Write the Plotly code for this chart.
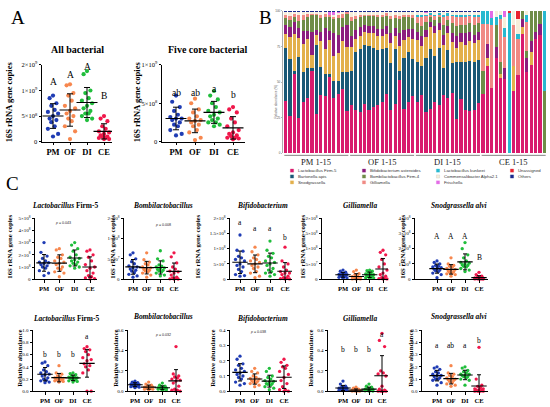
import numpy as np
import plotly.graph_objects as go

W, H = 550, 407
SERIF = "Liberation Serif, Times New Roman, serif"
SANS = "Liberation Sans, Arial, sans-serif"

groups = ["PM", "OF", "DI", "CE"]
group_colors = ["#1f3cb4", "#f7874e", "#20be3c", "#f0174a"]

# ---------------- Panel A data ----------------
all_bact_PM = [0.90, 0.85, 0.75, 0.70, 0.62, 0.58, 0.55, 0.50, 0.45, 0.42, 0.38, 0.30, 0.25, 0.15, 0.10]  # x1e9
all_bact_OF = [1.12, 1.10, 0.95, 0.90, 0.80, 0.70, 0.65, 0.60, 0.55, 0.50, 0.45, 0.40, 0.30, 0.20, 0.05]
all_bact_DI = [1.38, 1.32, 1.00, 0.95, 0.85, 0.80, 0.75, 0.70, 0.65, 0.60, 0.55, 0.55, 0.50, 0.45, 0.42]
all_bact_CE = [0.50, 0.45, 0.40, 0.30, 0.25, 0.20, 0.18, 0.15, 0.12, 0.10, 0.10, 0.08, 0.07, 0.05, 0.05]

core_bact_PM = [0.60, 0.52, 0.45, 0.40, 0.35, 0.32, 0.30, 0.30, 0.28, 0.25, 0.22, 0.20, 0.15, 0.10, 0.08]  # x1e9
core_bact_OF = [0.56, 0.50, 0.42, 0.38, 0.33, 0.30, 0.28, 0.27, 0.25, 0.22, 0.20, 0.15, 0.12, 0.05, 0.02]
core_bact_DI = [0.66, 0.60, 0.55, 0.50, 0.45, 0.40, 0.38, 0.35, 0.33, 0.30, 0.28, 0.25, 0.25, 0.22, 0.20]
core_bact_CE = [0.45, 0.42, 0.38, 0.30, 0.25, 0.20, 0.15, 0.12, 0.10, 0.08, 0.07, 0.05, 0.05, 0.04, 0.03]

# ---------------- Panel C data: gene copies ----------------
firm5_cp_PM = [3.0, 2.2, 1.9, 1.7, 1.5, 1.4, 1.35, 1.3, 1.2, 1.1, 1.0, 0.9, 0.7, 0.5, 0.3]  # x1e8
firm5_cp_OF = [2.5, 2.4, 2.0, 1.8, 1.7, 1.5, 1.4, 1.3, 1.2, 1.0, 0.9, 0.8, 0.6, 0.5, 0.2]
firm5_cp_DI = [3.0, 2.8, 2.5, 2.3, 2.0, 1.8, 1.7, 1.6, 1.5, 1.4, 1.3, 1.2, 1.1, 1.0, 0.9]
firm5_cp_CE = [2.4, 2.3, 2.0, 1.8, 1.5, 1.2, 1.0, 0.9, 0.7, 0.5, 0.3, 0.2, 0.1, 0.05, 0.02]

bombi_cp_PM = [6.5, 6.0, 5.0, 4.3, 3.8, 3.3, 3.0, 2.8, 2.5, 2.2, 2.0, 1.6, 1.2, 0.8, 0.5]  # x1e7
bombi_cp_OF = [6.5, 4.8, 4.2, 3.8, 3.5, 3.0, 2.8, 2.6, 2.4, 2.2, 2.0, 1.8, 1.5, 1.0, 0.5]
bombi_cp_DI = [7.0, 5.0, 4.5, 3.5, 3.2, 3.0, 2.8, 2.6, 2.4, 2.2, 2.0, 1.8, 1.5, 1.0, 0.8]
bombi_cp_CE = [6.5, 5.5, 4.0, 3.0, 2.5, 2.0, 1.8, 1.5, 1.0, 0.5, 0.3, 0.2, 0.1, 0.05, 0.02]

bifido_cp_PM = [14.5, 9.5, 9.2, 7.5, 7.0, 6.5, 6.0, 5.0, 4.5, 4.0, 3.2, 2.5, 1.5, 1.2, 1.0]  # x1e7
bifido_cp_OF = [10.5, 9.0, 8.0, 7.0, 6.5, 6.0, 5.5, 5.0, 4.5, 4.0, 3.5, 2.5, 2.0, 1.0, 0.5]
bifido_cp_DI = [12.5, 9.5, 8.5, 7.5, 7.0, 6.0, 5.5, 5.0, 4.5, 3.5, 3.0, 2.5, 2.0, 1.5, 1.0]
bifido_cp_CE = [10.5, 6.0, 5.0, 4.0, 3.0, 2.5, 2.0, 2.0, 1.5, 1.0, 0.5, 0.3, 0.2, 0.1, 0.1]

gilli_cp_PM = [3.0, 2.6, 2.3, 2.0, 1.8, 1.6, 1.5, 1.4, 1.2, 1.1, 1.0, 0.8, 0.6, 0.4, 0.3]  # x1e7
gilli_cp_OF = [3.0, 2.5, 1.8, 1.5, 1.0, 0.8, 0.6, 0.5, 0.4, 0.3, 0.2, 0.2, 0.1, 0.1, 0.05]
gilli_cp_DI = [3.0, 2.8, 2.6, 2.2, 1.9, 1.7, 1.5, 1.3, 1.2, 1.0, 0.8, 0.6, 0.5, 0.4, 0.3]
gilli_cp_CE = [9.5, 8.8, 8.0, 6.5, 5.0, 4.0, 3.0, 2.0, 1.5, 1.0, 0.5, 0.3, 0.2, 0.1, 0.1]

snod_cp_PM = [1.2, 1.1, 1.0, 0.9, 0.85, 0.8, 0.75, 0.7, 0.65, 0.6, 0.55, 0.5, 0.4, 0.3, 0.1]  # x1e8
snod_cp_OF = [1.4, 1.0, 0.9, 0.85, 0.8, 0.7, 0.65, 0.6, 0.55, 0.5, 0.45, 0.4, 0.35, 0.3, 0.2]
snod_cp_DI = [2.4, 2.0, 1.6, 1.4, 1.2, 1.1, 1.05, 1.0, 0.95, 0.9, 0.85, 0.8, 0.7, 0.6, 0.5]
snod_cp_CE = [0.45, 0.3, 0.2, 0.15, 0.1, 0.08, 0.06, 0.05, 0.04, 0.03, 0.03, 0.02, 0.02, 0.01, 0.01]

# ---------------- Panel C data: relative abundance ----------------
firm5_ra_PM = [0.48, 0.46, 0.42, 0.35, 0.32, 0.30, 0.28, 0.27, 0.25, 0.22, 0.20, 0.18, 0.17, 0.15, 0.14]
firm5_ra_OF = [0.42, 0.30, 0.28, 0.25, 0.23, 0.22, 0.21, 0.20, 0.20, 0.19, 0.18, 0.18, 0.17, 0.16, 0.15]
firm5_ra_DI = [0.30, 0.29, 0.27, 0.25, 0.24, 0.23, 0.22, 0.22, 0.21, 0.20, 0.20, 0.18, 0.17, 0.16, 0.15]
firm5_ra_CE = [0.73, 0.70, 0.68, 0.65, 0.60, 0.55, 0.52, 0.50, 0.45, 0.42, 0.40, 0.35, 0.30, 0.00, 0.00]

bombi_ra_PM = [0.10, 0.09, 0.085, 0.08, 0.075, 0.07, 0.065, 0.06, 0.06, 0.055, 0.05, 0.05, 0.045, 0.04, 0.035]
bombi_ra_OF = [0.09, 0.07, 0.06, 0.05, 0.045, 0.04, 0.04, 0.035, 0.035, 0.03, 0.03, 0.025, 0.02, 0.02, 0.015]
bombi_ra_DI = [0.08, 0.06, 0.05, 0.045, 0.04, 0.035, 0.03, 0.03, 0.03, 0.025, 0.025, 0.02, 0.02, 0.015, 0.01]
bombi_ra_CE = [0.44, 0.17, 0.15, 0.14, 0.13, 0.12, 0.11, 0.10, 0.08, 0.05, 0.02, 0.01, 0.01, 0.00, 0.00]

bifido_ra_PM = [0.23, 0.21, 0.18, 0.17, 0.15, 0.14, 0.13, 0.12, 0.11, 0.10, 0.09, 0.08, 0.06, 0.05, 0.04]
bifido_ra_OF = [0.15, 0.13, 0.12, 0.10, 0.09, 0.085, 0.08, 0.075, 0.07, 0.065, 0.06, 0.055, 0.05, 0.04, 0.03]
bifido_ra_DI = [0.15, 0.13, 0.10, 0.09, 0.08, 0.07, 0.065, 0.06, 0.05, 0.05, 0.045, 0.04, 0.03, 0.02, 0.01]
bifido_ra_CE = [0.21, 0.19, 0.17, 0.16, 0.15, 0.13, 0.11, 0.09, 0.07, 0.05, 0.03, 0.01, 0.01, 0.00, 0.00]

gilli_ra_PM = [0.10, 0.07, 0.05, 0.04, 0.035, 0.03, 0.03, 0.025, 0.02, 0.02, 0.02, 0.015, 0.01, 0.01, 0.005]
gilli_ra_OF = [0.04, 0.03, 0.02, 0.015, 0.012, 0.01, 0.01, 0.008, 0.006, 0.005, 0.004, 0.003, 0.002, 0.001, 0.001]
gilli_ra_DI = [0.07, 0.05, 0.04, 0.03, 0.025, 0.02, 0.018, 0.015, 0.012, 0.01, 0.008, 0.006, 0.004, 0.002, 0.001]
gilli_ra_CE = [0.57, 0.50, 0.44, 0.20, 0.18, 0.17, 0.15, 0.05, 0.02, 0.01, 0.00, 0.00, 0.00, 0.00, 0.00]

snod_ra_PM = [0.20, 0.19, 0.18, 0.16, 0.15, 0.14, 0.13, 0.13, 0.12, 0.11, 0.10, 0.10, 0.09, 0.07, 0.05]
snod_ra_OF = [0.21, 0.15, 0.14, 0.13, 0.12, 0.11, 0.10, 0.10, 0.095, 0.09, 0.08, 0.07, 0.06, 0.05, 0.04]
snod_ra_DI = [0.20, 0.19, 0.17, 0.16, 0.15, 0.14, 0.14, 0.13, 0.13, 0.12, 0.12, 0.11, 0.10, 0.09, 0.05]
snod_ra_CE = [0.36, 0.10, 0.05, 0.04, 0.03, 0.02, 0.02, 0.01, 0.01, 0.01, 0.00, 0.00, 0.00, 0.00, 0.00]

# ---------------- Panel B data (% per sample: PM1-15, OF1-15, DI1-15, CE1-15) ----------------
taxa = ["Lactobacillus Firm-5", "Bartonella apis", "Snodgrassella",
        "Bifidobacterium asteroides", "Bombilactobacillus Firm-4", "Gilliamella",
        "Lactobacillus kunkeei", "Commensalibacter Alpha2.1", "Frischella",
        "Unassigned", "Others"]
taxa_colors = ["#d81b6d", "#1a5876", "#e3b04b", "#8c1d7e", "#6e8c47", "#f08a84",
               "#27b9d0", "#f6eedb", "#e36ce6", "#e8232e", "#1b2a8e"]

ra_firm5 = [37, 26, 56, 25, 36, 39, 58, 28, 41, 40, 55, 40, 42, 45, 30,
            33, 30, 29, 34, 30, 32, 34, 36, 41, 30, 34, 51, 31, 36, 40,
            36, 41, 29, 31, 36, 34, 41, 39, 42, 24, 38, 30, 29, 30, 35,
            42, 61, 46, 67, 53, 52, 0.5, 44, 55, 84, 57, 62, 80, 83, 0]
ra_bart = [37, 40, 2, 43, 21, 21, 2, 48, 20, 16, 2, 12, 9, 12, 27,
           24, 41, 44, 41, 45, 41, 38, 37, 31, 33, 38, 6, 36, 35, 25,
           28, 20, 38, 43, 32, 40, 19, 33, 21, 40, 26, 34, 35, 34, 30,
           0, 0, 0, 0, 0, 0, 0, 0, 0, 0, 0, 0, 0, 0, 0]
ra_snod = [10, 15, 26, 13, 20, 20, 9, 7, 18, 17, 24, 18, 20, 22, 18,
           16, 9, 9, 9, 9, 10, 10, 9, 10, 14, 9, 17, 12, 10, 14,
           15, 14, 15, 15, 16, 12, 16, 12, 15, 10, 14, 12, 14, 13, 14,
           0, 6, 0, 0, 3, 0, 0, 17, 0, 5, 0, 9, 0, 0, 0]
ra_bifido = [6, 7, 8, 7, 9, 6, 16, 4, 6, 15, 7, 16, 13, 10, 15,
             8, 6, 6, 5, 5, 5, 5, 5, 5, 7, 6, 9, 7, 6, 7,
             6, 7, 5, 4, 5, 5, 7, 5, 6, 8, 6, 8, 6, 6, 6,
             0, 10, 0, 8, 0, 8, 0, 0, 0, 5, 10, 8, 5, 8, 0]
ra_bombi = [5, 5, 4, 5, 8, 10, 12, 10, 10, 8, 10, 10, 12, 6, 8,
            10, 8, 7, 6, 7, 7, 8, 8, 7, 10, 7, 10, 9, 8, 8,
            6, 7, 6, 3, 4, 4, 7, 4, 7, 7, 6, 6, 6, 7, 6,
            16, 0, 0, 15, 8, 0, 0, 0, 0, 6, 5, 21, 15, 9, 44]
ra_gilli = [2, 3, 2, 4, 3, 2, 1, 1, 2, 2, 1, 2, 2, 3, 1,
            3, 2, 2, 1, 1, 1, 2, 2, 2, 2, 2, 2, 2, 2, 2,
            4, 6, 4, 2, 3, 2, 5, 3, 5, 6, 5, 5, 5, 5, 4,
            33, 14, 44, 0, 30, 22, 0, 29, 25, 0, 20, 0, 0, 0, 0]
ra_kunkeei = [0, 0, 0, 0, 0, 0, 0, 0, 0, 0, 0, 0, 0, 0, 0,
              0, 0, 0, 0, 0, 0, 0, 0, 0, 0, 0, 0, 0, 0, 0,
              2, 2, 1, 1, 1, 1, 2, 2, 1, 2, 2, 2, 1, 2, 2,
              9, 9, 5, 6, 3, 6, 98, 0, 4, 0, 5, 0, 0, 0, 56]
ra_comm = [2.5, 3, 1.5, 2.5, 2.5, 1.5, 1.5, 1.5, 2.5, 1.5, 0.5, 1.5, 1.5, 1.5, 0.5,
           3, 3, 2, 2, 2, 2, 2, 2, 1, 3, 2, 3, 2, 2, 2,
           2, 2, 1, 1, 2, 1, 2, 1, 2, 2, 2, 2, 2, 2, 2,
           0, 0, 0, 4, 3, 8, 0, 10, 10, 0, 3, 0, 0, 0, 0]
ra_frisch = [0, 0, 0, 0, 0, 0, 0, 0, 0, 0, 2, 2, 1, 0, 0,
             0.5, 0, 0, 0, 0, 0, 0, 0, 0, 0, 0, 0, 0, 0, 0,
             0, 0, 1, 0, 0, 0, 0, 0, 0, 0, 0, 0, 0, 0, 0,
             0, 0, 5, 0, 0, 4, 0, 0, 0, 0, 0, 0, 0, 0, 0]
ra_unassigned = [0] * 45 + [0, 0, 0, 0, 0, 0, 1.5, 0, 6, 0, 0, 0, 0, 0, 0]
ra_others = [0.6] * 45 + [0] * 15

taxa_values = [ra_firm5, ra_bart, ra_snod, ra_bifido, ra_bombi, ra_gilli,
               ra_kunkeei, ra_comm, ra_frisch, ra_unassigned, ra_others]
sample_groups = ["PM 1-15", "OF 1-15", "DI 1-15", "CE 1-15"]

# ---------------- tick labels ----------------
def sci(m, e):
    return f"{m}×10<sup>{e}</sup>"

a1_ticks = ["0", sci(5, 8), sci(1, 9), sci(2, 9)]
a2_ticks = ["0", sci(5, 8), sci(1, 9)]
c1_ticks = ["0", sci(1, 8), sci(2, 8), sci(3, 8), sci(4, 8), sci(5, 8)]
c2_ticks = ["0", sci(5, 7), sci(1, 8), sci(2, 8)]
c3_ticks = ["0", sci(5, 7), sci(1, 8), sci("1.5", 8), sci(2, 8)]
c5_ticks = ["0", sci(1, 8), sci(2, 8), sci(3, 8), sci(4, 8)]

COPIES = "<b>16S rRNA gene copies</b>"
RELAB = "<b>Relative abundance</b>"

# layout (pixel) specs: box = (axis x0, axis x1, PM center, CE center, y top, y bottom)
big = dict(tick_size=6.5, xlab_size=8.5, title_size=10, ytitle_size=8.5, pt=4.2, mean_w=15, cap=3, letter_size=9.5)
small = dict(tick_size=5.0, xlab_size=6.6, title_size=7.4, ytitle_size=6.8, pt=3.3, mean_w=11, cap=2, letter_size=7.5)

dot_panels = [
    dict(data=[all_bact_PM, all_bact_OF, all_bact_DI, all_bact_CE], unit=1e9,
         box=(42, 112, 53, 104, 62, 140), yr=[0, 1.5e9], tv=[0, 5e8, 1e9, 1.5e9], tt=a1_ticks,
         title="<b>All bacterial</b>", txy=(77, 46), ytitle=COPIES, ytx=9, yty=100,
         letters=[("A", 79), ("A", 72), ("A", 64), ("B", 94)], p=None, st=big),
    dict(data=[core_bact_PM, core_bact_OF, core_bact_DI, core_bact_CE], unit=1e9,
         box=(162, 245, 176, 233, 62, 140), yr=[0, 1e9], tv=[0, 5e8, 1e9], tt=a2_ticks,
         title="<b>Five core bacterial</b>", txy=(207, 46), ytitle=COPIES, ytx=137, yty=100,
         letters=[("ab", 91), ("ab", 91), ("a", 86), ("b", 93)], p=None, st=big),
    dict(data=[firm5_cp_PM, firm5_cp_OF, firm5_cp_DI, firm5_cp_CE], unit=1e8,
         box=(35, 97, 44, 90, 218, 280), yr=[0, 5e8], tv=[0, 1e8, 2e8, 3e8, 4e8, 5e8], tt=c1_ticks,
         title="<b><i>Lactobacillus</i> Firm-5</b>", txy=(65, 205), ytitle=COPIES, ytx=10, yty=247,
         letters=None, p=("<i>p</i> = 0.043", 63, 223), st=small),
    dict(data=[bombi_cp_PM, bombi_cp_OF, bombi_cp_DI, bombi_cp_CE], unit=1e7,
         box=(124, 182, 133, 174, 218, 280), yr=[0, 1.5e8], tv=[0, 5e7, 1e8, 1.5e8], tt=c2_ticks,
         title="<b><i>Bombilactobacillus</i></b>", txy=(163, 205), ytitle=COPIES, ytx=113, yty=247,
         letters=None, p=("<i>p</i> = 0.008", 163, 225), st=small),
    dict(data=[bifido_cp_PM, bifido_cp_OF, bifido_cp_DI, bifido_cp_CE], unit=1e7,
         box=(230, 292, 240, 285, 218, 280), yr=[0, 2e8], tv=[0, 5e7, 1e8, 1.5e8, 2e8], tt=c3_ticks,
         title="<b><i>Bifidobacterium</i></b>", txy=(262, 205), ytitle=COPIES, ytx=198, yty=247,
         letters=[("a", 222), ("a", 228), ("a", 228), ("b", 238)], p=None, st=small),
    dict(data=[gilli_cp_PM, gilli_cp_OF, gilli_cp_DI, gilli_cp_CE], unit=1e7,
         box=(322, 388, 343, 383, 218, 280), yr=[0, 2e8], tv=[0, 5e7, 1e8, 1.5e8, 2e8], tt=c3_ticks,
         title="<b><i>Gilliamella</i></b>", txy=(360, 205), ytitle=COPIES, ytx=303, yty=247,
         letters=None, p=None, st=small),
    dict(data=[snod_cp_PM, snod_cp_OF, snod_cp_DI, snod_cp_CE], unit=1e8,
         box=(415, 488, 437, 479, 218, 280), yr=[0, 4e8], tv=[0, 1e8, 2e8, 3e8, 4e8], tt=c5_ticks,
         title="<b><i>Snodgrassella alvi</i></b>", txy=(459, 205), ytitle=COPIES, ytx=403, yty=247,
         letters=[("A", 237), ("A", 237), ("A", 237), ("B", 258)], p=None, st=small),
    dict(data=[firm5_ra_PM, firm5_ra_OF, firm5_ra_DI, firm5_ra_CE], unit=1,
         box=(33, 95, 45, 87, 332, 394), yr=[0, 1.0], tv=[0, 0.2, 0.4, 0.6, 0.8, 1.0], tt=None,
         title="<b><i>Lactobacillus</i> Firm-5</b>", txy=(66, 320), ytitle=RELAB, ytx=20, yty=361,
         letters=[("b", 357), ("b", 357), ("b", 357), ("a", 338)], p=None, st=small),
    dict(data=[bombi_ra_PM, bombi_ra_OF, bombi_ra_DI, bombi_ra_CE], unit=1,
         box=(128, 182, 135, 176, 332, 394), yr=[0, 0.6], tv=[0, 0.2, 0.4, 0.6], tt=None,
         title="<b><i>Bombilactobacillus</i></b>", txy=(163, 318), ytitle=RELAB, ytx=116, yty=361,
         letters=None, p=("<i>p</i> = 0.032", 163, 337), st=small),
    dict(data=[bifido_ra_PM, bifido_ra_OF, bifido_ra_DI, bifido_ra_CE], unit=1,
         box=(230, 292, 240, 284, 332, 394), yr=[0, 0.4], tv=[0, 0.1, 0.2, 0.3, 0.4], tt=None,
         title="<b><i>Bifidobacterium</i></b>", txy=(262, 320), ytitle=RELAB, ytx=213, yty=361,
         letters=None, p=("<i>p</i> = 0.038", 258, 334), st=small),
    dict(data=[gilli_ra_PM, gilli_ra_OF, gilli_ra_DI, gilli_ra_CE], unit=1,
         box=(328, 388, 343, 382, 332, 394), yr=[0, 0.6], tv=[0, 0.2, 0.4, 0.6], tt=None,
         title="<b><i>Gilliamella</i></b>", txy=(360, 320), ytitle=RELAB, ytx=311, yty=361,
         letters=[("b", 352), ("b", 352), ("b", 352), ("a", 336)], p=None, st=small),
    dict(data=[snod_ra_PM, snod_ra_OF, snod_ra_DI, snod_ra_CE], unit=1,
         box=(422, 488, 437, 479, 332, 394), yr=[0, 0.5], tv=[0, 0.1, 0.2, 0.3, 0.4, 0.5], tt=None,
         title="<b><i>Snodgrassella alvi</i></b>", txy=(459, 318), ytitle=RELAB, ytx=411, yty=361,
         letters=[("a", 347), ("ab", 347), ("a", 347), ("b", 342)], p=None, st=small),
]

JIT = [0.0, -0.2, 0.2, -0.1, 0.1, -0.3, 0.3, 0.0, -0.2, 0.2, -0.1, 0.1, -0.3, 0.3, 0.0]


def X(p):
    return p / W


def Y(p):
    return 1 - p / H


fig = go.Figure()
layout = {}
annotations = []
shapes = []

for n, P in enumerate(dot_panels, start=1):
    x0, x1, pm, ce, yt, yb = P["box"]
    st = P["st"]
    u = (ce - pm) / 3.0
    xr = [(x0 - pm) / u, 3 + (x1 - ce) / u]
    xk = "xaxis" if n == 1 else f"xaxis{n}"
    yk = "yaxis" if n == 1 else f"yaxis{n}"
    xref = "x" if n == 1 else f"x{n}"
    yref = "y" if n == 1 else f"y{n}"
    layout[xk] = dict(domain=[X(x0), X(x1)], range=xr, anchor=yref, showgrid=False, zeroline=False,
                      showline=True, linecolor="black", linewidth=1, ticks="outside", ticklen=2.5,
                      tickwidth=1, tickcolor="black", tickvals=[0, 1, 2, 3],
                      ticktext=[f"<b>{g}</b>" for g in groups],
                      tickfont=dict(family=SERIF, size=st["xlab_size"], color="black"), fixedrange=True)
    ydict = dict(domain=[Y(yb), Y(yt)], range=P["yr"], anchor=xref, showgrid=False, zeroline=False,
                 showline=True, linecolor="black", linewidth=1, ticks="outside", ticklen=2.5,
                 tickwidth=1, tickcolor="black", tickvals=P["tv"],
                 tickfont=dict(family=SERIF, size=st["tick_size"], color="black"), fixedrange=True)
    if P["tt"] is not None:
        ydict["ticktext"] = P["tt"]
    else:
        ydict["tickformat"] = ".1f"
    layout[yk] = ydict

    for i, (vals, col) in enumerate(zip(P["data"], group_colors)):
        v = np.array(vals, dtype=float) * P["unit"]
        order = np.argsort(-v, kind="stable")
        xs = np.empty(len(v))
        xs[order] = i + np.array(JIT[:len(v)])
        fig.add_trace(go.Scatter(x=xs, y=v, mode="markers", xaxis=xref, yaxis=yref,
                                 marker=dict(size=st["pt"], color=col, line=dict(width=0)),
                                 cliponaxis=False, showlegend=False, hoverinfo="skip"))
        m = float(np.mean(v))
        s = float(np.std(v, ddof=1))
        fig.add_trace(go.Scatter(x=[i], y=[m], mode="markers", xaxis=xref, yaxis=yref,
                                 marker=dict(symbol="line-ew", size=st["mean_w"], color="black",
                                             line=dict(width=1.1, color="black")),
                                 error_y=dict(type="data", array=[s], visible=True, color="black",
                                              thickness=1, width=st["cap"]),
                                 cliponaxis=True, showlegend=False, hoverinfo="skip"))

    annotations.append(dict(text=P["title"], x=X(P["txy"][0]), y=Y(P["txy"][1]), xref="paper", yref="paper",
                            showarrow=False, xanchor="center", yanchor="middle",
                            font=dict(family=SERIF, size=st["title_size"], color="black")))
    annotations.append(dict(text=P["ytitle"], x=X(P["ytx"]), y=Y(P["yty"]), xref="paper", yref="paper",
                            showarrow=False, textangle=-90, xanchor="center", yanchor="middle",
                            font=dict(family=SERIF, size=st["ytitle_size"], color="black")))
    if P["letters"]:
        for i, (txt, ly) in enumerate(P["letters"]):
            annotations.append(dict(text=txt, x=i, y=Y(ly), xref=xref, yref="paper", showarrow=False,
                                    xanchor="center", yanchor="middle",
                                    font=dict(family=SERIF, size=st["letter_size"], color="black")))
    if P["p"]:
        txt, px_, py_ = P["p"]
        annotations.append(dict(text=txt, x=X(px_), y=Y(py_), xref="paper", yref="paper", showarrow=False,
                                xanchor="center", yanchor="middle",
                                font=dict(family=SANS, size=3.6, color="#222")))

# ---------------- Panel B ----------------
nb = len(dot_panels) + 1
bx, by = f"x{nb}", f"y{nb}"
sample_idx = list(range(len(ra_firm5)))
for name, vals, col in zip(taxa, taxa_values, taxa_colors):
    fig.add_trace(go.Bar(x=sample_idx, y=vals, name=name, xaxis=bx, yaxis=by, width=0.72,
                         marker=dict(color=col, line=dict(width=0)), showlegend=False, hoverinfo="skip"))
B_x0, B_x1, B_yt, B_yb = 283, 547, 7, 152
layout[f"xaxis{nb}"] = dict(domain=[X(B_x0), X(B_x1)], range=[-0.6, 59.6], anchor=by, showgrid=False,
                            zeroline=False, showline=False, showticklabels=False, ticks="", fixedrange=True)
layout[f"yaxis{nb}"] = dict(domain=[Y(B_yb), Y(B_yt)], range=[0, 100], anchor=bx, showgrid=False,
                            zeroline=False, showline=True, linecolor="#777", linewidth=0.6,
                            ticks="outside", ticklen=1.5, tickwidth=0.5, tickcolor="#777",
                            tickvals=[0, 25, 50, 75, 100], tickfont=dict(family=SANS, size=3, color="#555"),
                            fixedrange=True)
annotations.append(dict(text="Relative abundance (%)", x=X(276), y=Y(80), xref="paper", yref="paper",
                        showarrow=False, textangle=-90, font=dict(family=SANS, size=3.2, color="#555")))
for g, lab in enumerate(sample_groups):
    shapes.append(dict(type="line", xref=bx, yref="paper", x0=g * 15 - 0.3, x1=g * 15 + 14.3,
                       y0=Y(154), y1=Y(154), line=dict(color="#666", width=0.8)))
    annotations.append(dict(text=lab, x=g * 15 + 7, y=Y(160.5), xref=bx, yref="paper", showarrow=False,
                            xanchor="center", yanchor="middle", font=dict(family=SERIF, size=8.5, color="#222")))

leg_mx = [292, 364, 438, 512]
leg_rows = [169.5, 175.5, 181.5]
for k, (name, col) in enumerate(zip(taxa, taxa_colors)):
    c, r = divmod(k, 3)
    mx, my = leg_mx[c], leg_rows[r]
    shapes.append(dict(type="rect", xref="paper", yref="paper", x0=X(mx - 1.6), x1=X(mx + 1.6),
                       y0=Y(my + 1.6), y1=Y(my - 1.6), fillcolor=col,
                       line=dict(color="#bbb" if col == "#f6eedb" else col, width=0.3)))
    annotations.append(dict(text=name, x=X(mx + 4), y=Y(my), xref="paper", yref="paper", showarrow=False,
                            xanchor="left", yanchor="middle", font=dict(family=SANS, size=4.3, color="#333")))

for lab, lx, ly in [("A", 18, 14), ("B", 265, 14), ("C", 12, 183)]:
    annotations.append(dict(text=lab, x=X(lx), y=Y(ly), xref="paper", yref="paper", showarrow=False,
                            xanchor="center", yanchor="middle", font=dict(family=SERIF, size=19, color="black")))

fig.update_layout(width=W, height=H, margin=dict(l=0, r=0, t=0, b=0), paper_bgcolor="white",
                  plot_bgcolor="white", showlegend=False, barmode="stack", barnorm="percent",
                  bargap=0.28, annotations=annotations, shapes=shapes, **layout)
fig.write_html("out.html", config={"displayModeBar": False, "staticPlot": True},
               post_script="document.body.style.margin='0';document.body.style.overflow='hidden';")
